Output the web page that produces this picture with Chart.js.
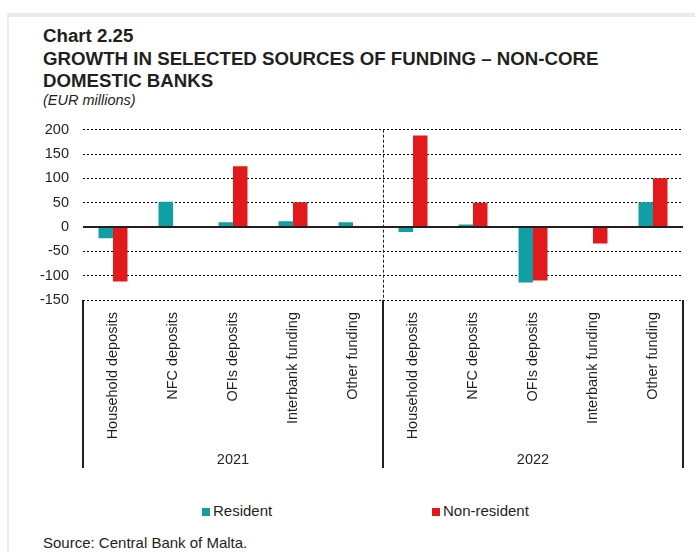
<!DOCTYPE html>
<html>
<head>
<meta charset="utf-8">
<script src="https://cdn.jsdelivr.net/npm/chart.js@4"></script>
<style>
    body { margin: 0; background: #fff; font-family: "Liberation Sans", Arial, sans-serif; color: #231f20; }
    .page { position: relative; width: 695px; height: 552px; overflow: hidden; }
    .frame { position: absolute; left: 7px; top: 13px; right: 0; bottom: 0; border-top: 4px solid #ebebeb; border-left: 2px solid #ebebeb; }
    .t { position: absolute; left: 43px; white-space: nowrap; }
    .bold { font-weight: bold; font-size: 18.7px; line-height: 18.7px; }
    .unit { font-style: italic; font-size: 14.5px; line-height: 14.5px; }
    .legend { position: absolute; top: 503px; font-size: 15px; line-height: 15px; }
    .legend i { position: absolute; left: -11px; top: 5px; width: 8px; height: 8px; }
    .source { font-size: 15px; line-height: 15px; }
    #wrap { position: absolute; left: 0; top: 107px; width: 695px; height: 373px; }
</style>
</head>
<body>
<div class="page">
    <div class="frame"></div>
    <div class="t bold" style="top:27px">Chart 2.25</div>
    <div class="t bold" style="top:50px">GROWTH IN SELECTED SOURCES OF FUNDING – NON-CORE</div>
    <div class="t bold" style="top:72px">DOMESTIC BANKS</div>
    <div class="t unit" style="top:93px">(EUR millions)</div>
    <div id="wrap"><canvas id="fundingChart"></canvas></div>
    <div class="legend" style="left:213px"><i style="background:#109fa4"></i>Resident</div>
    <div class="legend" style="left:443px"><i style="background:#e31a1c"></i>Non-resident</div>
    <div class="t source" style="top:535px">Source: Central Bank of Malta.</div>
</div>

<script>
// ===== DATA =====
const sources = ["Household deposits", "NFC deposits", "OFIs deposits", "Interbank funding", "Other funding"];
const years = ["2021", "2022"];

const resident2021 = [-23, 52, 10, 12, 10];
const resident2022 = [-10, 5, -114, 1, 51];
const nonResident2021 = [-112, 1, 125, 51, 0];
const nonResident2022 = [188, 50, -110, -34, 100];

const yTicks = [-150, -100, -50, 0, 50, 100, 150, 200];

const TEAL = "#109fa4";
const RED = "#e31a1c";
const INK = "#231f20";

// 10 categories, 5 per year
const labels = years.flatMap(() => sources);
const resident = resident2021.concat(resident2022);
const nonResident = nonResident2021.concat(nonResident2022);

Chart.defaults.font.family = "'Liberation Sans', Arial, sans-serif";
Chart.defaults.color = INK;

// zero line, year separators and year labels
const yearGroups = {
    id: "yearGroups",
    afterDatasetsDraw(chart) {
        const { ctx, chartArea, scales: { x, y } } = chart;
        const half = (x.getPixelForValue(1) - x.getPixelForValue(0)) / 2;
        const per = sources.length;

        ctx.save();

        // solid zero line
        const y0 = Math.round(y.getPixelForValue(0));
        ctx.strokeStyle = INK;
        ctx.lineWidth = 2;
        ctx.beginPath();
        ctx.moveTo(chartArea.left, y0);
        ctx.lineTo(chartArea.right, y0);
        ctx.stroke();

        // boundaries between the two years
        for (let g = 0; g <= years.length; g++) {
            const bx = Math.round(x.getPixelForValue(g * per) - half);
            if (g > 0 && g < years.length) {
                ctx.lineWidth = 1;
                ctx.setLineDash([3, 2]);
                ctx.beginPath();
                ctx.moveTo(bx + 0.5, chartArea.top);
                ctx.lineTo(bx + 0.5, chartArea.bottom);
                ctx.stroke();
            }
            ctx.setLineDash([]);
            ctx.lineWidth = 2;
            ctx.beginPath();
            ctx.moveTo(bx, chartArea.bottom);
            ctx.lineTo(bx, chartArea.bottom + 168);
            ctx.stroke();
        }

        // year labels under each group
        ctx.fillStyle = INK;
        ctx.font = "14.5px 'Liberation Sans', Arial, sans-serif";
        ctx.textAlign = "center";
        ctx.textBaseline = "middle";
        years.forEach((yr, g) => {
            const cx = (x.getPixelForValue(g * per) + x.getPixelForValue(g * per + per - 1)) / 2;
            ctx.fillText(yr, cx, chartArea.bottom + 160);
        });

        ctx.restore();
    }
};

new Chart(document.getElementById("fundingChart"), {
    type: "bar",
    data: {
        labels: labels,
        datasets: [
            { label: "Resident", data: resident, backgroundColor: TEAL },
            { label: "Non-resident", data: nonResident, backgroundColor: RED }
        ]
    },
    options: {
        responsive: true,
        maintainAspectRatio: false,
        animation: false,
        layout: { padding: { top: 6, right: 12, bottom: 0, left: 0 } },
        datasets: {
            bar: { categoryPercentage: 0.483, barPercentage: 1.0 }
        },
        plugins: {
            legend: { display: false },
            tooltip: { enabled: false }
        },
        scales: {
            x: {
                grid: { display: false },
                border: { display: false },
                ticks: {
                    minRotation: 90,
                    maxRotation: 90,
                    autoSkip: false,
                    padding: 4,
                    font: { size: 14.5 },
                    color: INK
                },
                afterFit(scale) { scale.height = 180; }
            },
            y: {
                min: -150,
                max: 200,
                afterBuildTicks(scale) { scale.ticks = yTicks.map(v => ({ value: v })); },
                grid: { color: "#000", lineWidth: 1, drawTicks: false },
                border: { display: false, dash: [2, 2] },
                ticks: { padding: 14, font: { size: 14.5 }, color: INK },
                afterFit(scale) { scale.width = 83; }
            }
        }
    },
    plugins: [yearGroups]
});
</script>
</body>
</html>
